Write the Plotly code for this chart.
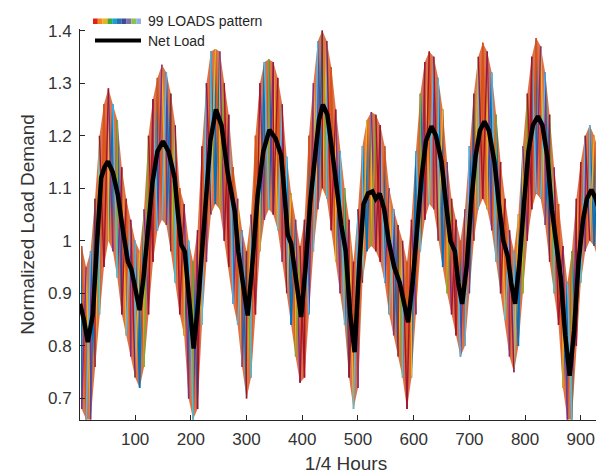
import plotly.graph_objects as go

# Net load (black curve) at its turning points
net_x = [1, 8, 15, 24, 33, 39, 45, 51, 60, 69, 78, 87, 93,
         100, 108, 115, 123, 131, 140, 150, 160, 171, 177, 183, 189,
         197, 205, 213, 225, 235, 245, 255, 266, 279, 285,
         294, 302, 310, 320, 330, 341, 352, 362, 368, 374, 380,
         390, 398, 406, 414, 422, 430, 437, 445, 455, 463, 470, 478,
         486, 494, 502, 510, 518, 526, 532, 539, 547, 555, 565, 575,
         583, 590, 598, 606, 614, 622, 632, 640, 650, 658, 666, 674,
         680, 687, 695, 703, 711, 719, 727, 735, 745, 753, 761, 769,
         775, 782, 790, 798, 806, 814, 823, 831, 840, 848, 856, 864,
         872, 880, 888, 896, 904, 911, 919, 927, 935, 943, 951, 960]
net_y = [0.88, 0.85, 0.807, 0.86, 1.02, 1.12, 1.14, 1.151, 1.13, 1.087, 1.02, 0.96, 0.947,
         0.91, 0.868, 0.93, 1.023, 1.11, 1.17, 1.189, 1.17, 1.119, 1.05, 0.992, 0.98,
         0.88, 0.795, 0.88, 1.056, 1.19, 1.25, 1.22, 1.13, 1.055, 0.98,
         0.92, 0.858, 0.95, 1.087, 1.17, 1.211, 1.195, 1.163, 1.09, 1.011, 0.995,
         0.92, 0.855, 0.95, 1.07, 1.151, 1.23, 1.259, 1.24, 1.16, 1.08, 1.03, 0.98,
         0.86, 0.788, 0.95, 1.07, 1.09, 1.094, 1.08, 1.09, 1.06, 1.0, 0.95, 0.92,
         0.88, 0.845, 0.92, 1.03, 1.12, 1.19, 1.218, 1.2, 1.15, 1.07, 1.0, 0.98,
         0.92, 0.88, 0.95, 1.07, 1.16, 1.21, 1.227, 1.21, 1.15, 1.07, 1.0, 0.97,
         0.92, 0.88, 0.96, 1.07, 1.17, 1.22, 1.237, 1.22, 1.16, 1.06, 0.99, 0.93,
         0.82, 0.743, 0.83, 0.96, 1.04, 1.08, 1.097, 1.08, 1.05, 0.97, 0.90, 0.87]

# Spread of the 99 load patterns: top and bottom of the coloured band, every 8 samples
band_x = list(range(4, 960, 8))
band_hi = [0.99, 0.95, 0.98, 1.08, 1.20, 1.26, 1.29, 1.26, 1.23, 1.14, 1.08, 1.04,
           1.00, 0.98, 1.06, 1.20, 1.27, 1.31, 1.335, 1.32, 1.28, 1.22, 1.10, 1.07,
           1.00, 0.96, 1.02, 1.18, 1.30, 1.36, 1.365, 1.36, 1.30, 1.24, 1.14, 1.08,
           1.02, 0.98, 1.05, 1.20, 1.30, 1.34, 1.345, 1.34, 1.31, 1.26, 1.16, 1.09,
           1.04, 0.99, 1.04, 1.20, 1.30, 1.38, 1.40, 1.38, 1.33, 1.25, 1.17, 1.10,
           1.04, 0.96, 1.06, 1.18, 1.23, 1.245, 1.24, 1.22, 1.18, 1.10, 1.06, 1.03,
           1.00, 0.96, 1.04, 1.17, 1.28, 1.34, 1.36, 1.35, 1.31, 1.25, 1.15, 1.08,
           1.04, 1.00, 1.06, 1.18, 1.28, 1.35, 1.377, 1.36, 1.32, 1.24, 1.15, 1.08,
           1.02, 0.98, 1.05, 1.18, 1.28, 1.35, 1.386, 1.37, 1.32, 1.24, 1.14, 1.07,
           0.99, 0.92, 0.98, 1.08, 1.15, 1.20, 1.22, 1.20, 1.17, 1.10, 1.04, 0.98]
band_lo = [0.68, 0.66, 0.66, 0.76, 0.86, 0.95, 1.00, 0.98, 0.93, 0.86, 0.82, 0.78,
           0.74, 0.72, 0.76, 0.86, 0.96, 1.02, 1.04, 1.03, 0.98, 0.92, 0.86, 0.82,
           0.70, 0.66, 0.68, 0.84, 0.96, 1.05, 1.07, 1.06, 1.00, 0.95, 0.88, 0.84,
           0.76, 0.70, 0.74, 0.86, 0.98, 1.04, 1.06, 1.05, 1.02, 0.96, 0.90, 0.84,
           0.78, 0.73, 0.74, 0.86, 0.98, 1.06, 1.10, 1.08, 1.02, 0.96, 0.90, 0.84,
           0.74, 0.68, 0.72, 0.92, 0.98, 0.99, 0.98, 0.96, 0.92, 0.86, 0.82, 0.78,
           0.74, 0.68, 0.74, 0.86, 0.98, 1.04, 1.07, 1.06, 1.00, 0.95, 0.90, 0.86,
           0.82, 0.78, 0.80, 0.90, 1.00, 1.06, 1.08, 1.06, 1.02, 0.96, 0.90, 0.85,
           0.78, 0.75, 0.80, 0.90, 1.00, 1.06, 1.09, 1.08, 1.03, 0.96, 0.90, 0.84,
           0.72, 0.66, 0.66, 0.80, 0.92, 0.98, 1.00, 0.99, 0.96, 0.88, 0.82, 0.77]

x_ticks = [100, 200, 300, 400, 500, 600, 700, 800, 900]
y_ticks = [0.7, 0.8, 0.9, 1.0, 1.1, 1.2, 1.3, 1.4]
y_labels = ["0.7", "0.8", "0.9", "1", "1.1", "1.2", "1.3", "1.4"]

matlab_colors = ["#0072BD", "#D95319", "#EDB120", "#7E2F8E", "#77AC30", "#4DBEEE", "#A2142F"]
stripe_colors = ["#E0201B", "#F08A1E", "#EDB120", "#3DAA3A", "#1BA1C9",
                 "#2F6DB5", "#3B4A9C", "#7D7597", "#8BC34A", "#8FB0E6"]
AXIS = "#262626"
TXT = "#333333"

fig = go.Figure()

# base of the band
fig.add_trace(go.Scatter(x=band_x, y=band_lo, mode="lines", line=dict(width=0),
                         hoverinfo="skip", showlegend=False))
fig.add_trace(go.Scatter(x=band_x, y=band_hi, mode="lines", line=dict(width=0),
                         fill="tonexty", fillcolor="rgba(214,90,40,0.85)",
                         hoverinfo="skip", showlegend=False))

# thin criss-cross strokes between the read band limits, in MATLAB line colours
order = [0, 1, 3, 6, 5, 1, 2, 0, 4, 6, 1, 3, 5, 0, 2, 1, 6]
segs = {c: ([], []) for c in range(len(matlab_colors))}
n = len(band_x)
for i in range(n):
    c = order[i % len(order)]
    segs[c][0].extend([band_x[i], band_x[i], None])
    segs[c][1].extend([band_lo[i], band_hi[i], None])
    if i + 1 < n:
        c2 = order[(i + 5) % len(order)]
        segs[c2][0].extend([band_x[i], band_x[i + 1], None])
        segs[c2][1].extend([band_hi[i], band_lo[i + 1], None])
        c3 = order[(i + 11) % len(order)]
        segs[c3][0].extend([band_x[i], band_x[i + 1], None])
        segs[c3][1].extend([band_lo[i], band_hi[i + 1], None])
for c, (xs, ys) in segs.items():
    fig.add_trace(go.Scatter(x=xs, y=ys, mode="lines",
                             line=dict(color=matlab_colors[c], width=1.4),
                             hoverinfo="skip", showlegend=False))

fig.add_trace(go.Scatter(x=net_x, y=net_y, mode="lines", name="Net Load",
                         line=dict(color="black", width=4.5), showlegend=False))

# hand-made legend (MATLAB style, no box)
shapes = []
x0 = 85
for k, col in enumerate(stripe_colors):
    shapes.append(dict(type="rect", xref="paper", yref="paper",
                       x0=(x0 + k * 4.8 - 72) / 532, x1=(x0 + (k + 1) * 4.8 - 72) / 532,
                       y0=(412 - 16) / 391, y1=(412 - 10.5) / 391,
                       fillcolor=col, line=dict(width=0), layer="above"))
shapes.append(dict(type="line", xref="paper", yref="paper",
                   x0=(87 - 72) / 532, x1=(133 - 72) / 532,
                   y0=(412 - 32.5) / 391, y1=(412 - 32.5) / 391,
                   line=dict(color="black", width=4), layer="above"))

font = "Liberation Sans, Arial, Helvetica, sans-serif"
annotations = [
    dict(text="99 LOADS pattern", xref="paper", yref="paper",
         x=(138 - 72) / 532, y=(412 - 13) / 391, xanchor="left", yanchor="middle",
         showarrow=False, font=dict(family=font, size=14, color=AXIS)),
    dict(text="Net Load", xref="paper", yref="paper",
         x=(138 - 72) / 532, y=(412 - 33) / 391, xanchor="left", yanchor="middle",
         showarrow=False, font=dict(family=font, size=14, color=AXIS)),
]

fig.update_layout(
    width=604, height=473,
    margin=dict(l=72, r=0, t=21, b=61),
    paper_bgcolor="white", plot_bgcolor="white",
    font=dict(family=font, color=TXT),
    shapes=shapes, annotations=annotations,
    showlegend=False,
)
fig.update_xaxes(range=[1, 956], tickvals=x_ticks, ticks="inside", ticklen=5,
                 tickcolor=AXIS, showline=True, linecolor=AXIS, linewidth=1,
                 showgrid=False, zeroline=False, tickfont=dict(size=17),
                 ticklabelstandoff=4,
                 title=dict(text="1/4 Hours", font=dict(size=19), standoff=8))
fig.update_yaxes(range=[0.659, 1.403], tickvals=y_ticks, ticktext=y_labels,
                 ticks="inside", ticklen=5, tickcolor=AXIS, showline=True,
                 linecolor=AXIS, linewidth=1, showgrid=False, zeroline=False,
                 tickfont=dict(size=17), ticklabelstandoff=4,
                 title=dict(text="Normalized Load Demand", font=dict(size=19), standoff=8))

fig.write_html("out.html")
